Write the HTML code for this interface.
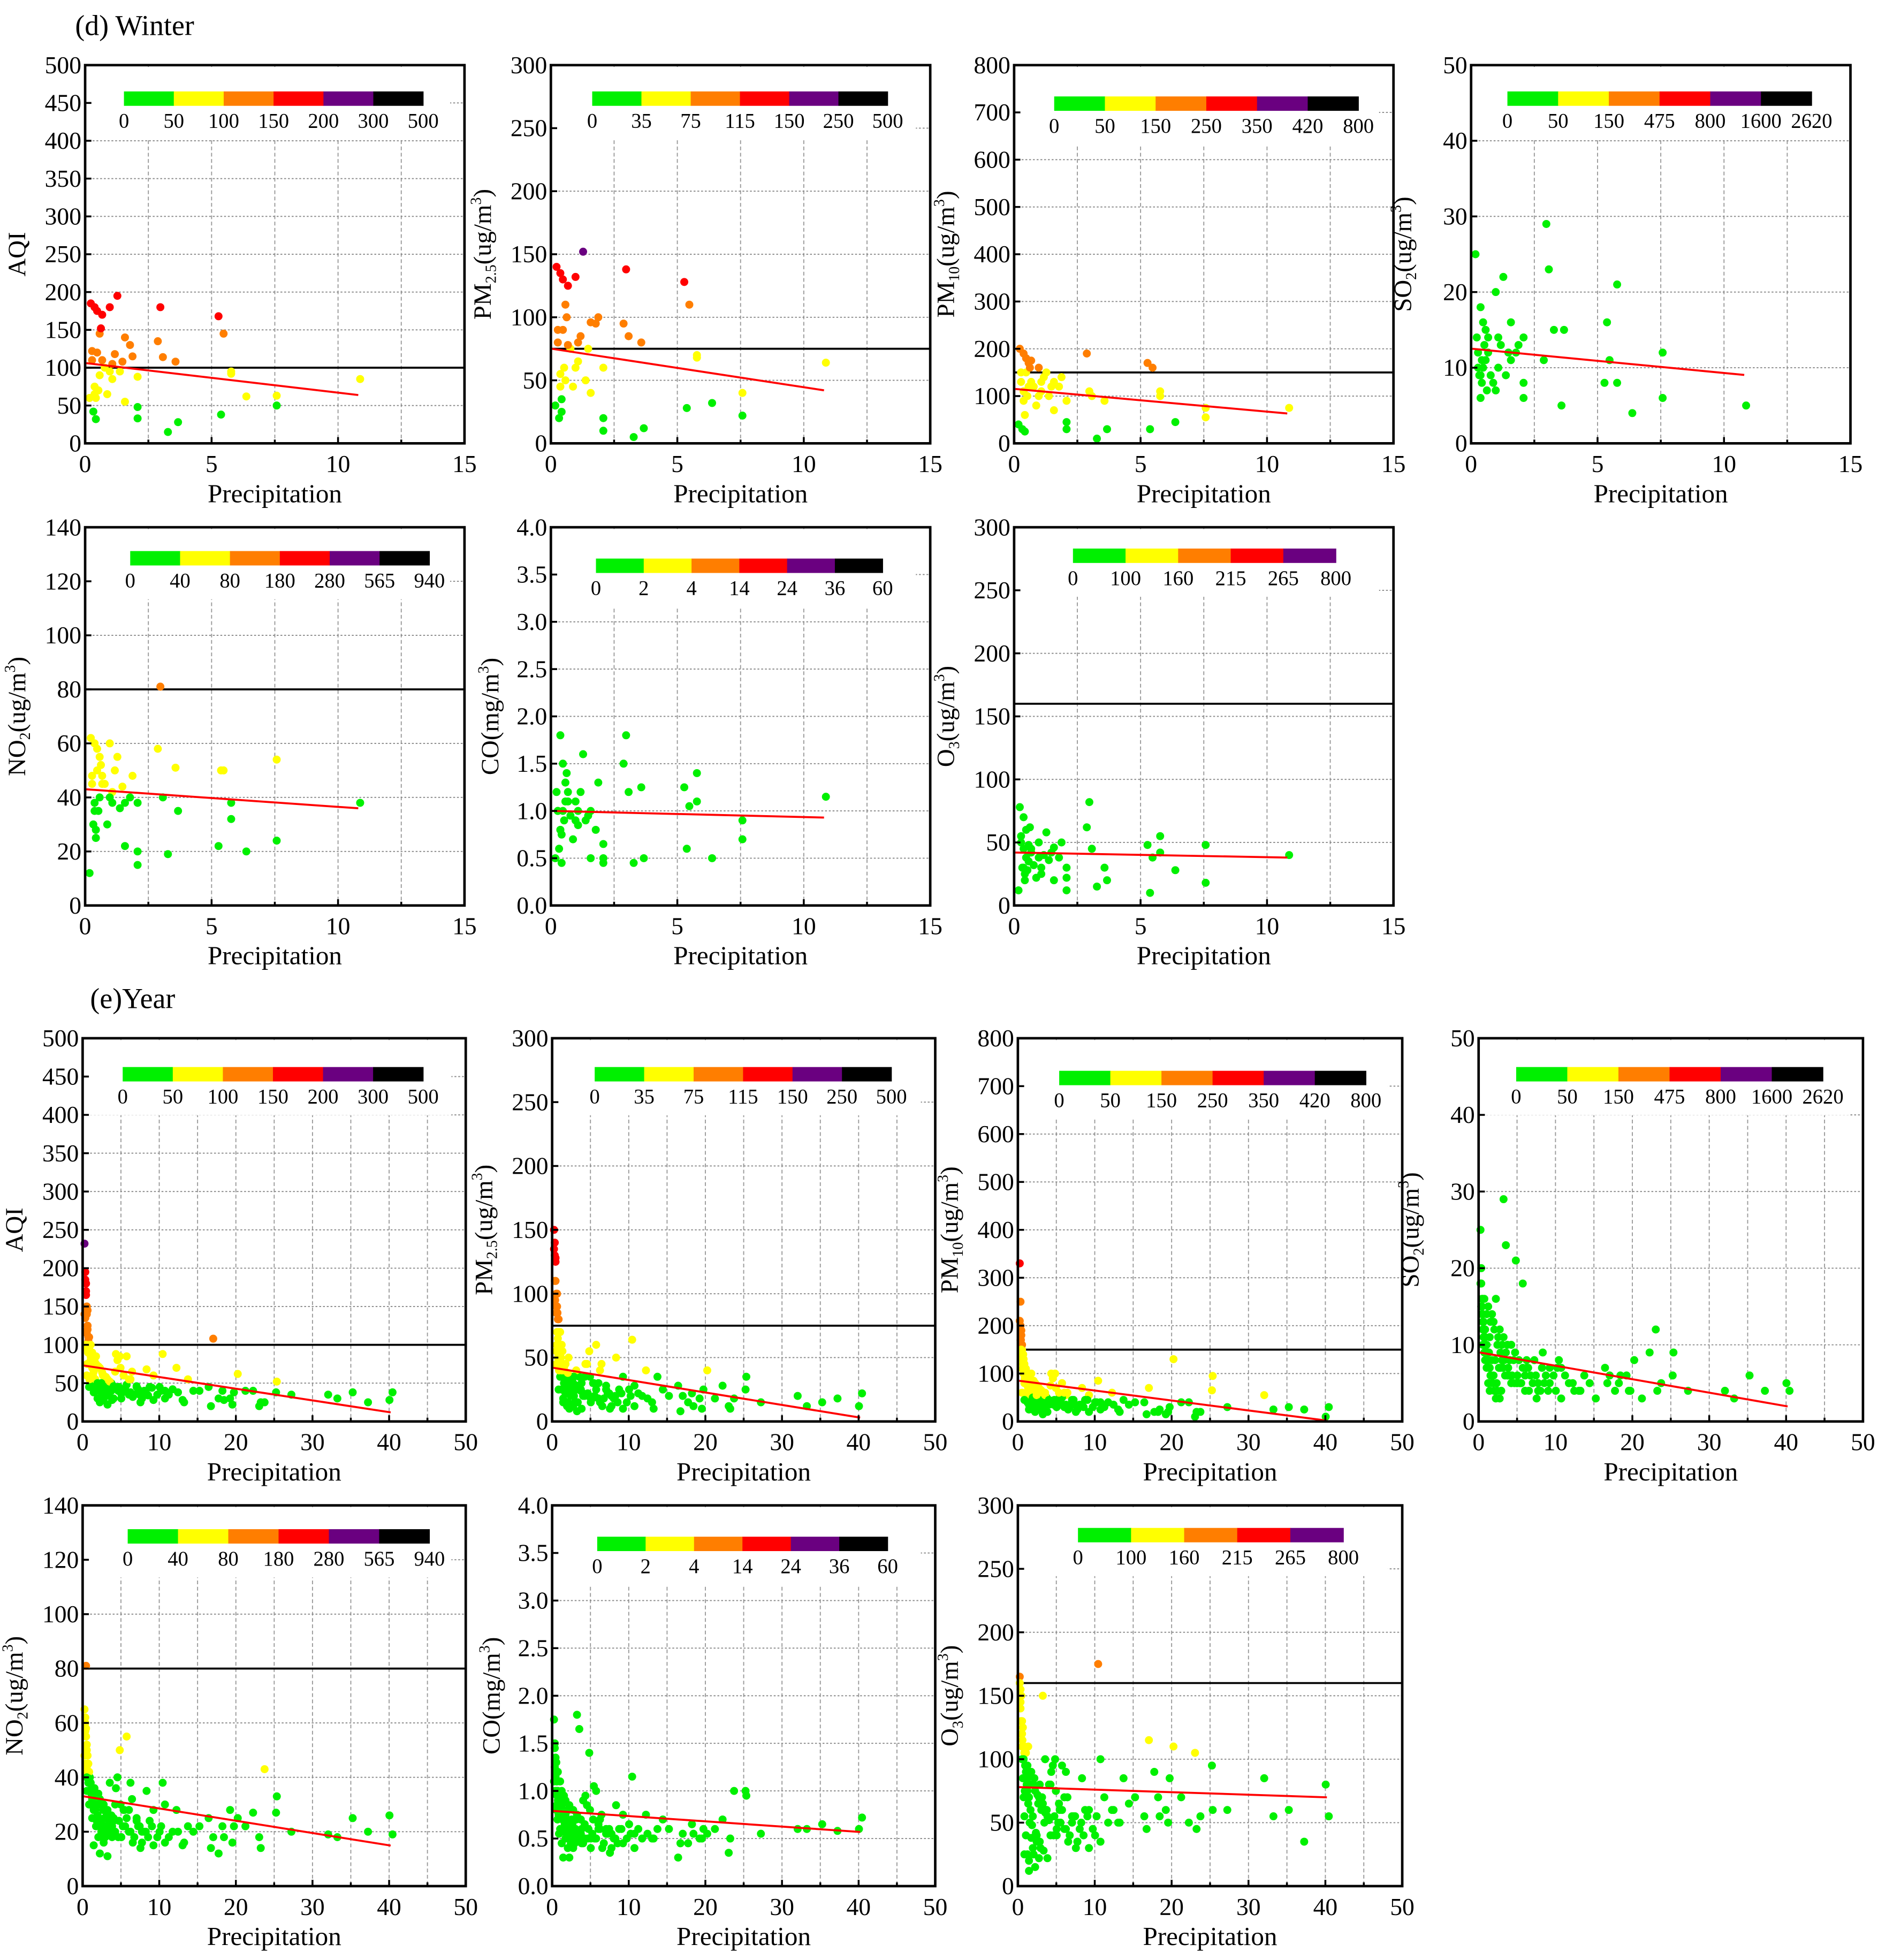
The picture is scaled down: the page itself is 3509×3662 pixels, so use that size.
<!DOCTYPE html>
<html><head><meta charset="utf-8">
<style>
html,body{margin:0;padding:0;background:#fff;}
svg{display:block;}
svg text{font-family:"Liberation Serif","DejaVu Serif",serif;fill:#000;}
</style></head>
<body>
<svg id="fig" width="3509" height="3662" viewBox="0 0 1500 1565" preserveAspectRatio="none" xmlns="http://www.w3.org/2000/svg" font-family="Liberation Serif, DejaVu Serif, serif">
<rect width="1500" height="1565" fill="#fff"/>
<text x="60" y="28" font-size="23" font-family="Liberation Serif, serif">(d) Winter</text>
<text x="72" y="805" font-size="23" font-family="Liberation Serif, serif">(e)Year</text>
</svg>
<script>
// ---------- Winter data (shared precipitation) ----------
const winterPrecip = [0.1,0.15,0.2,0.25,0.3,0.3,0.35,0.4,0.4,0.45,0.5,0.5,0.55,0.6,0.7,0.8,0.9,1.0,1.0,1.1,1.2,1.3,1.5,1.5,1.7,2.0,2.0,2.0,2.8,2.9,3.0,3.2,3.5,3.6,5.2,5.3,5.4,5.7,5.7,6.3,7.5,7.5,10.8,0.2,0.3,0.6,0.9,1.4,1.8,0.35];
const winterAQI = [60,185,110,42,180,65,32,175,120,70,145,90,152,170,100,65,180,105,85,118,195,95,140,55,130,88,48,33,135,180,114,15,108,28,168,38,145,95,92,62,63,50,85,122,75,110,95,108,115,60];
const winterPM25 = [30,140,80,20,135,45,25,130,90,60,110,50,100,125,75,45,132,80,65,85,152,50,96,40,95,60,20,10,95,138,85,5,80,12,128,28,110,70,68,32,40,22,64,90,55,78,60,75,100,35];
const winterPM10 = [40,200,130,30,190,90,25,180,150,100,170,120,160,175,120,80,160,130,110,140,150,100,130,70,120,90,45,30,190,110,100,10,90,30,170,30,160,100,110,45,75,55,75,150,110,130,100,120,140,60];
const winterSO2 = [25,14,12,9,18,6,8,16,10,13,11,15,7,12,9,8,20,14,10,13,22,9,16,11,12,6,8,14,11,29,23,15,5,15,8,16,11,21,8,4,12,6,5,10,9,14,7,12,13,11];
const winterNO2 = [12,62,45,30,60,38,25,58,50,35,55,40,52,48,45,30,60,42,38,50,55,36,38,22,40,38,15,20,58,81,40,19,51,35,22,50,50,32,38,20,54,24,38,48,35,45,40,44,48,28];
const winterCO = [0.5,1.2,1.0,0.6,1.8,0.8,0.45,1.5,1.0,0.9,1.3,1.1,1.4,1.2,0.95,0.7,1.1,1.0,0.85,1.2,1.6,0.9,1.0,0.5,0.8,0.65,0.45,0.5,1.5,1.8,1.2,0.45,1.25,0.5,1.25,0.6,1.05,1.4,1.1,0.5,0.9,0.7,1.15,1.0,0.8,1.1,0.9,0.95,1.3,0.75];
const winterO3 = [12,78,50,30,70,45,20,60,38,28,48,35,62,42,32,22,50,30,25,40,58,36,46,20,38,30,12,22,62,82,45,15,30,20,48,10,38,55,42,28,18,48,40,55,30,45,38,42,50,25];

// ---------- Year data (shared precipitation) ----------
const yearPrecip = [0,0.1,0.2,0.3,0.4,0.5,0.6,0.8,1.0,1.2, 0.1,0.3,0.5,0.7,0.9,1.1,1.3,1.5,1.8,2.0, 0.2,0.4,0.6,0.8,1.0,1.4,1.6,2.2,2.5,3.0, 0.1,0.3,0.5,0.9,1.2,1.7,2.1,2.7,3.3,3.8, 0.2,0.6,1.0,1.5,2.4,3.2,4.0,4.6,5.2,5.8, 0.4,0.8,1.9,2.9,3.6,4.4,5.5,6.2,6.8,7.5, 0.3,1.1,2.6,3.5,4.8,6.0,7.2,8.1,9.0,9.8, 10.2,10.5,11.0,12.0,12.8,13.5,14.2,16.2,16.8,17.5, 18.0,19.0,19.5,20.0,22.0,22.8,23.5,25.0,25.1,31.8, 35.0,37.0,39.8,40.2,0.0,0.15,0.35,0.45,0.65,2.8,
 0.5,1.0,1.5,2.0,2.5,3.0,3.5,4.0,4.5,5.0, 5.5,6.0,6.5,7.0,7.5,8.0,8.5,9.0,9.5,10.0, 0.3,0.8,1.3,1.8,2.3,2.8,3.3,3.8,4.3,4.8, 5.3,5.8,6.3,6.8,7.3,7.8,8.3,8.8,10.5,11.5, 0.6,1.2,1.7,2.2,2.6,3.1,3.6,4.1,4.7,5.1, 12.2,13.0,15.0,16.5,18.2,19.3,21.0,23.0,27.0,33.0];
const yearAQI = [232,185,170,150,125,110,95,80,60,45, 195,140,105,90,75,60,50,40,30,25, 180,120,100,85,70,55,45,38,28,22, 135,115,95,80,65,50,40,35,45,30, 165,110,90,75,60,50,45,85,40,35, 145,100,70,55,48,40,85,65,45,38, 60,75,50,40,30,55,35,68,60,45, 88,40,35,70,28,55,40,45,108,30, 40,30,38,62,40,20,25,38,52,35, 38,25,28,38,140,100,75,90,55,35,
 90,75,85,70,60,55,50,65,45,40, 48,38,35,42,30,38,45,28,35,40, 95,88,80,72,64,58,52,46,80,36, 42,55,32,46,25,40,34,44,30,42, 45,38,30,50,42,34,28,88,70,60, 38,25,40,20,28,22,40,25,35,30];
const yearPM25 = [150,130,110,90,70,55,45,35,25,15, 140,100,80,60,50,40,30,22,15,10, 128,90,70,55,45,35,28,20,12,8, 110,85,65,50,40,30,25,15,35,20, 125,80,60,45,35,25,20,55,30,18, 100,70,50,40,30,22,60,45,28,20, 45,55,35,25,18,40,22,50,35,25, 64,28,22,40,15,35,25,28,20,15, 22,18,25,40,28,12,18,25,35,20, 15,18,12,22,135,95,60,85,40,25,
 50,40,45,35,30,28,24,35,20,18, 25,15,18,22,12,20,25,10,15,20, 55,48,42,38,32,28,25,22,45,15, 20,30,12,25,10,18,15,22,12,20, 25,18,12,28,20,15,10,45,35,30, 18,10,20,8,12,10,18,10,15,12];
const yearPM10 = [330,250,190,150,120,100,80,60,40,25, 200,160,130,110,90,70,55,40,30,20, 180,140,115,95,75,60,45,35,25,15, 170,130,100,80,65,50,40,30,60,35, 150,120,95,75,60,45,40,100,50,30, 130,90,70,55,45,35,80,60,40,30, 60,75,50,40,30,55,35,70,55,40, 85,40,30,60,25,45,35,40,70,20, 20,15,30,130,40,10,20,65,95,55, 30,25,10,30,210,170,110,140,90,50,
 120,90,100,80,70,60,50,75,45,40, 50,35,30,45,25,35,45,20,30,40, 140,110,95,85,75,65,55,45,90,30, 40,60,25,45,20,35,30,45,25,40, 45,35,25,55,40,30,20,100,70,60, 35,20,40,15,25,20,40,20,30,25];
const yearSO2 = [25,18,15,13,11,9,8,7,5,4, 20,14,12,10,9,7,6,5,4,3, 16,13,11,9,8,6,5,4,3,29, 15,12,10,8,7,6,5,4,23,6, 14,11,9,8,7,6,5,21,5,4, 12,10,8,7,6,5,18,7,5,4, 10,9,7,6,5,8,6,9,7,4, 8,7,6,5,4,6,5,7,6,4, 5,6,4,8,9,12,5,6,9,4, 6,4,5,4,18,15,13,11,10,8,
 16,15,14,16,12,11,10,10,9,8, 7,7,6,8,5,7,6,5,6,7, 16,14,13,12,11,10,9,8,8,6, 5,6,4,5,3,4,5,4,3,5, 12,11,13,10,9,8,7,6,5,5, 4,4,3,5,6,4,3,4,4,3];
const yearNO2 = [65,60,55,50,45,40,35,30,25,15, 62,52,45,40,35,30,28,22,18,12, 58,48,42,38,32,28,24,20,16,11, 57,44,40,34,30,26,22,18,38,25, 81,42,36,32,28,24,20,50,28,20, 40,35,30,26,22,18,55,32,25,20, 35,30,25,20,18,38,22,35,28,20, 38,30,18,28,15,22,20,25,18,12, 22,28,22,25,27,18,43,27,33,19, 25,20,26,19,48,45,42,35,30,22,
 38,36,34,32,30,28,26,30,24,22, 25,20,18,22,16,20,24,15,18,22, 40,38,36,34,30,28,26,24,40,18, 22,28,16,24,14,20,18,22,16,20, 30,28,26,24,22,20,18,36,30,28, 20,16,22,14,18,16,22,14,20,18];
const yearCO = [1.75,1.5,1.3,1.1,0.95,0.85,0.75,0.6,0.45,0.3, 1.45,1.2,1.0,0.9,0.8,0.7,0.6,0.5,0.4,0.3, 1.35,1.1,0.95,0.85,0.75,0.65,0.55,0.45,0.4,1.8, 1.25,1.0,0.9,0.8,0.7,0.6,0.5,0.45,1.65,0.9, 1.15,0.95,0.85,0.75,0.65,0.55,0.5,1.4,1.05,0.6, 1.0,0.9,0.8,0.7,0.6,0.5,1.0,0.75,0.6,0.55, 0.8,0.7,0.6,0.55,0.5,0.7,0.6,0.85,0.75,0.65, 1.15,0.55,0.6,0.75,0.5,0.6,0.7,0.3,0.55,0.45, 0.65,0.5,0.6,0.55,0.7,0.35,1.0,1.0,0.95,0.6, 0.65,0.58,0.6,0.72,1.1,1.0,0.85,0.7,0.55,0.6,
 1.2,1.0,0.9,0.85,0.8,0.75,0.7,0.65,0.6,0.55, 0.5,0.6,0.45,0.55,0.4,0.5,0.6,0.45,0.5,0.55, 1.3,1.1,0.95,0.8,0.7,0.6,0.5,0.45,0.85,0.4, 0.5,0.65,0.4,0.55,0.35,0.5,0.45,0.6,0.4,0.5, 0.9,0.8,0.7,0.6,0.55,0.5,0.45,0.95,0.8,0.7, 0.55,0.5,0.6,0.45,0.55,0.5,0.6,0.5,0.55,0.6];
const yearO3 = [165,140,120,100,85,70,55,40,25,12, 155,130,110,95,80,65,50,38,25,15, 150,125,105,90,75,60,48,35,22,150, 145,120,100,85,70,55,42,30,100,80, 130,110,95,80,65,50,40,100,60,45, 125,105,85,70,55,40,95,70,50,35, 100,110,80,60,45,90,55,85,60,40, 175,100,70,60,50,85,65,55,115,90, 70,60,85,110,50,105,55,95,60,85, 60,35,80,55,160,130,115,100,75,60,
 100,85,90,75,70,65,60,80,55,50, 60,45,40,55,35,50,60,30,45,55, 110,95,88,80,72,65,58,52,95,40, 50,70,35,55,30,45,40,55,35,50, 25,20,30,40,35,28,22,90,75,65, 60,50,70,45,55,50,70,45,60,55];

// ---------- Colour-scale breakpoints (tick labels) ----------
const breaksAQI = [0,50,100,150,200,300,500];
const breaksPM25 = [0,35,75,115,150,250,500];
const breaksPM10 = [0,50,150,250,350,420,800];
const breaksSO2 = [0,50,150,475,800,1600,2620];
const breaksNO2 = [0,40,80,180,280,565,940];
const breaksCO = [0,2,4,14,24,36,60];
const breaksO3 = [0,100,160,215,265,800];
const levelColors = ["#00f000","#ffff00","#ff7e00","#ff0000","#6a0080","#000000"];

// ---------- Regression lines [intercept, slope] ----------
const fitWinter = {aqi:[106,-3.9],pm25:[75,-3.05],pm10:[115,-4.8],so2:[12.5,-0.32],no2:[43,-0.65],co:[1.0,-0.0065],o3:[42,-0.37]};
const fitYear = {aqi:[73,-1.52],pm25:[42,-0.97],pm10:[85,-2.07],so2:[9,-0.175],no2:[33,-0.45],co:[0.79,-0.0055],o3:[78,-0.2]};
const stdLines = {aqi:100,pm25:75,pm10:150,so2:null,no2:80,co:null,o3:160};

const NS="http://www.w3.org/2000/svg";
const FONT="Liberation Serif, DejaVu Serif, serif";
const svg=document.getElementById('fig');
function el(tag,attrs,parent){const e=document.createElementNS(NS,tag);for(const k in attrs)e.setAttribute(k,attrs[k]);if(tag==='text')e.setAttribute('font-family',FONT);(parent||svg).appendChild(e);return e;}

const yAxes={
 aqi:{max:500,step:50,dec:0,label:[["AQI",""]]},
 pm25:{max:300,step:50,dec:0,label:[["PM",""],["2.5","sub"],["(ug/m",""],["3","sup"],[")",""]]},
 pm10:{max:800,step:100,dec:0,label:[["PM",""],["10","sub"],["(ug/m",""],["3","sup"],[")",""]]},
 so2:{max:50,step:10,dec:0,label:[["SO",""],["2","sub"],["(ug/m",""],["3","sup"],[")",""]]},
 no2:{max:140,step:20,dec:0,label:[["NO",""],["2","sub"],["(ug/m",""],["3","sup"],[")",""]]},
 co:{max:4,step:0.5,dec:1,label:[["CO(mg/m",""],["3","sup"],[")",""]]},
 o3:{max:300,step:50,dec:0,label:[["O",""],["3","sub"],["(ug/m",""],["3","sup"],[")",""]]}
};
const breaksMap={aqi:breaksAQI,pm25:breaksPM25,pm10:breaksPM10,so2:breaksSO2,no2:breaksNO2,co:breaksCO,o3:breaksO3};
const winterY={aqi:winterAQI,pm25:winterPM25,pm10:winterPM10,so2:winterSO2,no2:winterNO2,co:winterCO,o3:winterO3};
const yearY={aqi:yearAQI,pm25:yearPM25,pm10:yearPM10,so2:yearSO2,no2:yearNO2,co:yearCO,o3:yearO3};

const panels=[
 ['w','aqi',68,52,371,354,99,338,73],
 ['w','pm25',440,52,743,354,473,709,73],
 ['w','pm10',810,52,1113,354,842,1085,77],
 ['w','so2',1175,52,1478,354,1204,1447,73],
 ['w','no2',68,421,371,723,104,343,440],
 ['w','co',440,421,743,723,476,705,446],
 ['w','o3',810,421,1113,723,857,1067,438],
 ['y','aqi',66,829,372,1135,98,338,852],
 ['y','pm25',441,829,747,1135,475,712,852],
 ['y','pm10',813,829,1120,1135,846,1091,855],
 ['y','so2',1181,829,1488,1135,1211,1456,852],
 ['y','no2',66,1202,372,1506,102,343,1221],
 ['y','co',441,1202,747,1506,477,709,1227],
 ['y','o3',813,1202,1120,1506,861,1073,1220]
];

function colorFor(v,br){for(let i=1;i<br.length;i++){if(v<=br[i])return levelColors[i-1];}return levelColors[levelColors.length-1];}

panels.forEach(p=>{
 const [season,key,L,T,R,B,bx0,bx1,by]=p;
 const isW=season==='w';
 const xMax=isW?15:50, xStep=isW?5:10, xGrid=isW?2.5:5;
 const ax=yAxes[key];
 const g=el('g',{});
 
 
 const sx=v=>L+(R-L)*v/xMax;
 const sy=v=>B-(B-T)*v/ax.max;
 const br=breaksMap[key];
 const xs=isW?winterPrecip:yearPrecip;
 const ys=(isW?winterY:yearY)[key];
 const fit=(isW?fitWinter:fitYear)[key];
 for(let v=xGrid;v<xMax-1e-9;v+=xGrid){
  const l=el('line',{x1:sx(v),x2:sx(v),y1:T,y2:B,stroke:'#999','stroke-width':0.8,'stroke-dasharray':'3 2'},g);
  
 }
 for(let v=ax.step;v<ax.max-1e-9;v+=ax.step){
  const l=el('line',{x1:L,x2:R,y1:sy(v),y2:sy(v),stroke:'#888','stroke-width':0.8,'stroke-dasharray':'1.5 1.5'},g);
  
 }
 const labY=by+29;
 const lb=el('rect',{x:L+1.5,y:T+1.5,width:(R-L)-13,height:labY-T+8,fill:'#fff'},g);
 
 const n=br.length-1, sw=(bx1-bx0)/n;
 for(let i=0;i<n;i++){
  const r=el('rect',{x:bx0+i*sw,y:by,width:sw+0.3,height:11.5,fill:levelColors[i]},g);
  
 }
 br.forEach((b,i)=>{
  const t=el('text',{x:bx0+i*sw,y:labY,'font-size':16.5,'text-anchor':'middle'},g);
  t.textContent=b;
  
 });
 if(stdLines[key]!==null){
  const s=el('line',{x1:L,x2:R,y1:sy(stdLines[key]),y2:sy(stdLines[key]),stroke:'#000','stroke-width':1.6},g);
  
 }
 xs.forEach((x,i)=>{
  const c=el('circle',{cx:sx(x)+1.5,cy:sy(ys[i]),r:3.2,fill:colorFor(ys[i],br)},g);
  
 });
 const xEnd=isW?10.8:40.2;
 const rl=el('line',{x1:sx(0)+1,y1:sy(fit[0]),x2:sx(xEnd),y2:sy(fit[0]+fit[1]*xEnd),stroke:'#ff0000','stroke-width':1.6},g);
 
 const f=el('rect',{x:L,y:T,width:R-L,height:B-T,fill:'none',stroke:'#000','stroke-width':2},g);
 
 for(let v=0;v<=xMax+1e-9;v+=xGrid){
  const major=Math.abs(v/xStep-Math.round(v/xStep))<1e-6;
  el('line',{x1:sx(v),x2:sx(v),y1:B,y2:B-(major?5:3),stroke:'#000','stroke-width':1.5},g);
  if(major){
   const t=el('text',{x:sx(v),y:B+23,'font-size':19.5,'text-anchor':'middle'},g);
   t.textContent=v;
   
  }
 }
 for(let v=0;v<=ax.max+1e-9;v+=ax.step){
  el('line',{x1:L,x2:L+5,y1:sy(v),y2:sy(v),stroke:'#000','stroke-width':1.5},g);
  const t=el('text',{x:L-3,y:sy(v)+6.5,'font-size':19.5,'text-anchor':'end'},g);
  t.textContent=v.toFixed(ax.dec);
  
 }
 const xt=el('text',{x:(L+R)/2,y:B+47,'font-size':21,'text-anchor':'middle'},g);
 xt.textContent='Precipitation';
 
 const yx=L-(key==='co'?42:48), yy=(T+B)/2;
 const yt=el('text',{x:yx,y:yy,'font-size':20,'text-anchor':'middle',transform:`rotate(-90 ${yx} ${yy})`},g);
 
 ax.label.forEach(([s,k])=>{
  const ts=document.createElementNS(NS,'tspan');yt.appendChild(ts);
  if(k==='sub'){ts.setAttribute('font-size',12);ts.setAttribute('dy',4);}
  else if(k==='sup'){ts.setAttribute('font-size',12);ts.setAttribute('dy',-8);}
  else {ts.setAttribute('font-size',20);}
  ts.textContent=s;
  if(k==='sub'){const r=document.createElementNS(NS,'tspan');r.setAttribute('dy',-4);r.textContent='\u200B';yt.appendChild(r);}
  if(k==='sup'){const r=document.createElementNS(NS,'tspan');r.setAttribute('dy',8);r.textContent='\u200B';yt.appendChild(r);}
 });
});
</script>
</body></html>
